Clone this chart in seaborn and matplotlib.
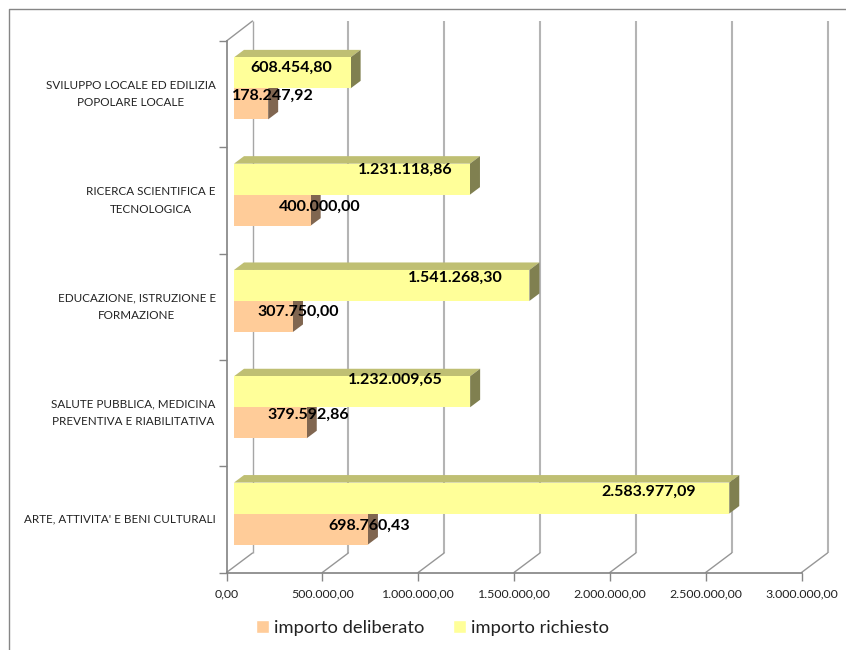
import matplotlib
matplotlib.use("Agg")
import matplotlib.pyplot as plt
import numpy as np
import pandas as pd
import seaborn as sns
from matplotlib.lines import Line2D
from matplotlib.patches import Patch, Polygon
from matplotlib.transforms import IdentityTransform, ScaledTranslation

categories = ["SVILUPPO LOCALE ED EDILIZIA\nPOPOLARE LOCALE",
              "RICERCA SCIENTIFICA E\nTECNOLOGICA",
              "EDUCAZIONE, ISTRUZIONE E\nFORMAZIONE",
              "SALUTE PUBBLICA, MEDICINA\nPREVENTIVA E RIABILITATIVA",
              "ARTE, ATTIVITA' E BENI CULTURALI"]
richiesto = [608454.80, 1231118.86, 1541268.30, 1232009.65, 2583977.09]
deliberato = [178247.92, 400000.00, 307750.00, 379592.86, 698760.43]
xticks = [0, 500000, 1000000, 1500000, 2000000, 2500000, 3000000]

# label nudges in pixels from the end of each bar (excel 3d labels sit oddly)
shift_richiesto = [(-59, 5), (-65, 9), (-74, 8), (-75, 12), (-81, 6)]
shift_deliberato = [(5, 8), (9, 3), (5, 5), (2, 8), (1, 3)]


def it_format(v, pos=None):
    s = f"{v:,.2f}"
    return s.replace(",", "#").replace(".", ",").replace("#", ".")


sns.set_theme(style="white")
plt.rcParams["font.family"] = ["Lato", "DejaVu Sans"]

df = pd.DataFrame({
    "settore": categories * 2,
    "importo": richiesto + deliberato,
    "serie": ["importo richiesto"] * 5 + ["importo deliberato"] * 5,
})

W, H = 846, 650
fig = plt.figure(figsize=(W / 100, H / 100), dpi=100)
ax = fig.add_axes([226.5 / W, 1 - 572.5 / H, 575 / W, 531.5 / H])

sns.barplot(data=df, y="settore", x="importo", hue="serie", order=categories,
            hue_order=["importo richiesto", "importo deliberato"],
            palette=["#FFFF99", "#FFCC99"], width=0.583, gap=0, saturation=1,
            errorbar=None, legend=False, ax=ax)
ax.set_xlim(0, 3000000)
ax.set_ylim(4.5, -0.5)
ax.set_xlabel("")
ax.set_ylabel("")
ax.patch.set_alpha(0)

ax.set_xticks(xticks)
ax.xaxis.set_major_formatter(plt.FuncFormatter(it_format))
ax.set_yticks(np.arange(0, 5))
ax.set_yticks(np.arange(-0.5, 5), minor=True)
ax.tick_params(axis="y", which="major", length=0, pad=7.8, labelsize=8.4, labelcolor="#222222")
ax.tick_params(axis="y", which="minor", left=True, length=6, width=1, color="#868686")
ax.tick_params(axis="x", length=6, width=1, color="#868686", pad=5.5, labelsize=8.9, labelcolor="#222222", bottom=True)
for lab in ax.get_yticklabels():
    lab.set_multialignment("center")
    lab.set_linespacing(1.7)
    lab.set_verticalalignment("center")

sns.despine(ax=ax)
ax.spines["left"].set_color("#868686")
ax.spines["bottom"].set_color("#868686")


def offset(dx, dy):
    return ScaledTranslation(dx / 100, dy / 100, fig.dpi_scale_trans)


# back wall and the diagonals running to it
wall = ax.transData + offset(26, 19.5)
ax.vlines(xticks[:1], 4.5, -0.5, colors="#A6A6A6", lw=1.0, transform=wall, clip_on=False, zorder=1)
ax.vlines(xticks[1:], 4.5, -0.5, colors="#B4B4B4", lw=1.5, transform=wall, clip_on=False, zorder=1)
for t in xticks:
    ax.annotate("", xy=(t, 4.5), xytext=(26, 19.5), textcoords="offset pixels",
                arrowprops=dict(arrowstyle="-", color="#969696", lw=1, shrinkA=0, shrinkB=0), zorder=1)
ax.annotate("", xy=(0, -0.5), xytext=(26, 20), textcoords="offset pixels", annotation_clip=False,
            arrowprops=dict(arrowstyle="-", color="#969696", lw=1, shrinkA=0, shrinkB=0), zorder=1)

# fake 3d boxes: move the front faces, then add top and side from the moved bar
bar_shift = (7.5, 5.8)
depth = (10, 7.5)
styles = [(4, "#BFBF73", "#808050", shift_richiesto), (3, "#BF9973", "#806650", shift_deliberato)]
for bars, (z, top_col, side_col, shifts) in zip(ax.containers, styles):
    for bar, (lx, ly) in zip(bars, shifts):
        bar.set_transform(ax.transData + offset(*bar_shift))
        bar.set_linewidth(0)
        bar.set_zorder(z)
        x0, y0 = ax.transData.transform((bar.get_x(), bar.get_y()))
        x1, y1 = ax.transData.transform((bar.get_x() + bar.get_width(), bar.get_y() + bar.get_height()))
        x0, x1 = x0 + bar_shift[0], x1 + bar_shift[0]
        top, bot = y0 + bar_shift[1], y1 + bar_shift[1]
        dx, dy = depth
        ax.add_patch(Polygon([(x0, top), (x0 + dx, top + dy), (x1 + dx, top + dy), (x1, top)], closed=True,
                             fc=top_col, lw=0, transform=IdentityTransform(), zorder=z - 0.5, clip_on=False))
        ax.add_patch(Polygon([(x1, top), (x1 + dx, top + dy), (x1 + dx, bot + dy), (x1, bot)], closed=True,
                             fc=side_col, lw=0, transform=IdentityTransform(), zorder=z - 0.5, clip_on=False))
        ax.annotate(it_format(bar.get_width()), xy=(x1, (top + bot) / 2), xycoords="figure pixels",
                    xytext=(lx, ly), textcoords="offset pixels", ha="center", va="center",
                    fontsize=11.5, fontweight="bold", color="black", zorder=6)

handles = [Patch(fc="#FFCC99", label="importo deliberato"), Patch(fc="#FFFF99", label="importo richiesto")]
fig.legend(handles=handles, loc="center", bbox_to_anchor=(432.5 / W, 1 - 628 / H), ncol=2, frameon=False,
           fontsize=13.2, handlelength=0.71, handleheight=0.71, handletextpad=0.27, columnspacing=1.6,
           labelcolor="#222222")

# chart frame, cropped on the right and bottom in the original
fig.add_artist(Line2D([9 / W, 9 / W, 1], [0, 1 - 9 / H, 1 - 9 / H], color="#868686", lw=1))

fig.savefig("out.png", dpi=100)
